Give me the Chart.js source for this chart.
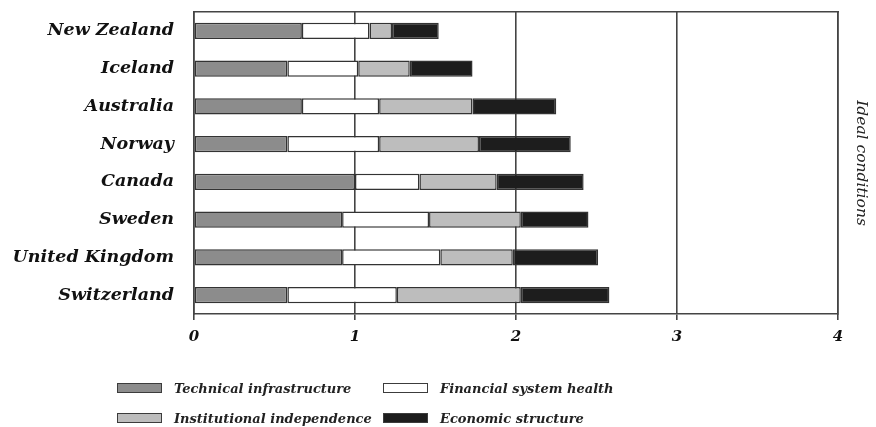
<!DOCTYPE html>
<html lang="en">
<head>
<meta charset="UTF-8">
<script src="https://cdn.jsdelivr.net/npm/chart.js"></script>
<style>
  body { margin: 0; background: #fff; }
  #wrap { position: relative; width: 876px; height: 427px; }
  #legend {
    position: absolute; left: 117px; top: 379px;
    display: grid; grid-template-columns: 266px auto; row-gap: 12px;
    font-family: 'DejaVu Serif', serif; font-style: italic; font-weight: bold;
    font-size: 13px; color: #222; white-space: nowrap;
  }
  #legend .item { display: flex; align-items: center; height: 18px; }
  #legend .box { width: 43px; height: 8px; border: 1.5px solid #3c3c3c; margin-right: 12px; }
</style>
<title>stacked bar</title>
</head>
<body>
<div id="wrap">
  <canvas id="myChart"></canvas>
  <div id="legend"></div>
</div>
<script>
// data
let countries = ['New Zealand', 'Iceland', 'Australia', 'Norway', 'Canada', 'Sweden', 'United Kingdom', 'Switzerland'];
let technical = [0.67, 0.58, 0.67, 0.58, 1.00, 0.92, 0.92, 0.58];
let financial = [0.42, 0.44, 0.48, 0.57, 0.40, 0.54, 0.61, 0.68];
let institutional = [0.14, 0.32, 0.58, 0.62, 0.48, 0.57, 0.45, 0.77];
let economic = [0.29, 0.39, 0.52, 0.57, 0.54, 0.42, 0.53, 0.55];
let xTicks = [0, 1, 2, 3, 4];

let lineCol = '#444';
let serif = 'DejaVu Serif';

function ds(label, data, color) {
    return {
        label: label, data: data, backgroundColor: color,
        borderColor: '#333', borderWidth: 1.5, borderSkipped: false,
        barPercentage: 0.85, categoryPercentage: 0.5
    };
}

let datasets = [
    ds('Technical infrastructure', technical, '#8c8c8c'),
    ds('Financial system health', financial, '#ffffff'),
    ds('Institutional independence', institutional, '#bdbdbd'),
    ds('Economic structure', economic, '#1d1d1d')
];

// no extra room for half label heights at the ends of the category axis
function noPad(s) { s.paddingTop = 0; s.paddingBottom = 0; }

let ctx = document.getElementById('myChart');
let configs = {
    type: 'bar',
    data: { labels: countries, datasets: datasets },
    options: {
        indexAxis: 'y',
        responsive: true,
        maintainAspectRatio: false,
        animation: false,
        layout: { padding: 0 },
        plugins: { legend: { display: false }, tooltip: { enabled: false } },
        scales: {
            x: {
                position: 'bottom', stacked: true, min: 0, max: 4,
                afterBuildTicks: function(s){ s.ticks = xTicks.map(v => ({ value: v })); },
                afterFit: function(s){ s.height = 113; },
                grid: { color: lineCol, lineWidth: 1.6, tickLength: 6, drawOnChartArea: true },
                border: { display: true, color: lineCol, width: 1.6 },
                ticks: { padding: 8, color: '#111', font: { family: serif, style: 'italic', weight: 'bold', size: 15 } }
            },
            x2: {
                position: 'top', type: 'linear', min: 0, max: 4,
                afterFit: function(s){ s.height = 12; },
                grid: { display: false },
                ticks: { display: false },
                border: { display: true, color: lineCol, width: 1.6 }
            },
            y: {
                stacked: true,
                afterFit: function(s){ s.width = 194; noPad(s); },
                grid: { display: false },
                border: { display: true, color: lineCol, width: 1.6 },
                ticks: { padding: 12, color: '#111', font: { family: serif, style: 'italic', weight: 'bold', size: 17.5 } }
            },
            y2: {
                position: 'right', type: 'category',
                afterFit: function(s){ s.width = 38; noPad(s); },
                grid: { display: false },
                ticks: { display: false },
                border: { display: true, color: lineCol, width: 1.6 },
                title: {
                    display: true, text: 'Ideal conditions', color: '#222',
                    padding: { top: 6, bottom: 0 },
                    font: { family: serif, style: 'italic', size: 15.5 }
                }
            }
        }
    }
};
let myChart = new Chart(ctx, configs);

// legend from datasets
let leg = document.getElementById('legend');
datasets.forEach(function(d){
    let item = document.createElement('div');
    item.className = 'item';
    item.innerHTML = '<span class="box" style="background:' + d.backgroundColor + '"></span>' + d.label;
    leg.appendChild(item);
});
</script>
</body>
</html>
